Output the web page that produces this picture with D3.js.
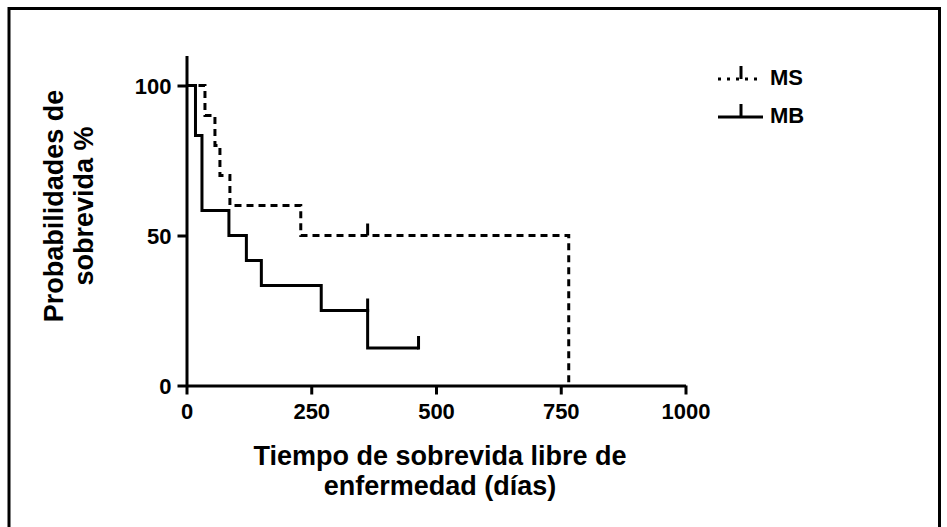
<!DOCTYPE html>
<html><head><meta charset="utf-8">
<script src="https://cdn.jsdelivr.net/npm/d3@7"></script>
<style>
html,body{margin:0;padding:0;background:#fff;}
svg{display:block;}
text{font-family:"Liberation Sans",Arial,sans-serif;font-weight:bold;fill:#000;}
</style></head><body>
<svg id="c" width="947" height="527"></svg>
<script>
// Data (days, survival %)
const msTimes = [0, 37, 57, 67, 87, 229, 766];
const msSurv  = [100, 90, 80, 70, 60, 50, 0];
const msCensor = [363];
const msCensorSurv = [50];

const mbTimes = [0, 18, 31, 85, 120, 150, 270, 363];
const mbSurv  = [100, 83.3, 58.3, 50, 41.7, 33.3, 25, 12.5];
const mbEnd = 465;
const mbCensor = [363, 465];
const mbCensorSurv = [25, 12.5];

const xTicks = [0, 250, 500, 750, 1000];
const yTicks = [0, 50, 100];
const seriesNames = ["MS", "MB"];

const svg = d3.select("#c");
// frame
svg.append("path").attr("d","M9,527 V8.5 H939.5 V527").attr("fill","none").attr("stroke","#000").attr("stroke-width",3);

const x = d3.scaleLinear().domain([0,1000]).range([186.5,685.5]);
const y = d3.scaleLinear().domain([0,110]).range([385.5,55.5]);

const gx = svg.append("g").attr("transform",`translate(0,${y(0)})`)
  .call(d3.axisBottom(x).tickValues(xTicks).tickSize(9).tickSizeOuter(0).tickPadding(7).tickFormat(d => String(d)));
const gy = svg.append("g").attr("transform",`translate(${x(0)},0)`)
  .call(d3.axisLeft(y).tickValues(yTicks).tickSize(9).tickSizeOuter(0).tickPadding(6).tickFormat(d => String(d)));
[gx,gy].forEach(g=>{
  g.attr("font-family",null).attr("font-size",null);
  g.select(".domain").attr("stroke","#000").attr("stroke-width",3);
  g.selectAll(".tick line").attr("stroke","#000").attr("stroke-width",3);
  g.selectAll(".tick text").style("font-size","22px").attr("fill","#000");
});
gx.selectAll(".tick text").attr("dy","0.78em");
gy.selectAll(".tick text").attr("dy","0.36em");

function stepLine(times, surv, end){
  const pts = [];
  for(let i=0;i<times.length;i++){
    if(i>0) pts.push([times[i], surv[i-1]]);
    pts.push([times[i], surv[i]]);
  }
  if(end!==undefined) pts.push([end, surv[surv.length-1]]);
  return d3.line().x(d=>x(d[0])).y(d=>y(d[1]))(pts);
}

// MS dashed
svg.append("path").attr("d", stepLine(msTimes, msSurv)).attr("fill","none")
  .attr("stroke","#000").attr("stroke-width",3).attr("stroke-dasharray","7,5");
msCensor.forEach((t,i)=>{
  svg.append("line").attr("x1",x(t)).attr("x2",x(t)).attr("y1",y(msCensorSurv[i])).attr("y2",y(msCensorSurv[i])-12)
    .attr("stroke","#000").attr("stroke-width",3);
});
// MB solid
svg.append("path").attr("d", stepLine(mbTimes, mbSurv, mbEnd)).attr("fill","none")
  .attr("stroke","#000").attr("stroke-width",3);
mbCensor.forEach((t,i)=>{
  svg.append("line").attr("x1",x(t)).attr("x2",x(t)).attr("y1",y(mbCensorSurv[i])+1.5).attr("y2",y(mbCensorSurv[i])-12)
    .attr("stroke","#000").attr("stroke-width",3);
});

// Legend
const leg = [{name:seriesNames[0], y:79, dash:"3,6"},{name:seriesNames[1], y:117, dash:null}];
leg.forEach(l=>{
  const ln = svg.append("line").attr("x1",718).attr("x2",763).attr("y1",l.y).attr("y2",l.y)
    .attr("stroke","#000").attr("stroke-width",3);
  if(l.dash) ln.attr("stroke-dasharray",l.dash);
  svg.append("line").attr("x1",741).attr("x2",741).attr("y1",l.y).attr("y2",l.y-13)
    .attr("stroke","#000").attr("stroke-width",3);
  svg.append("text").attr("x",770).attr("y",l.y+6).style("font-size","22px").text(l.name);
});

// Axis titles
const xt = svg.append("text").attr("text-anchor","middle").style("font-size","27px");
xt.append("tspan").attr("x",440).attr("y",465).text("Tiempo de sobrevida libre de");
xt.append("tspan").attr("x",440).attr("y",495).text("enfermedad (días)");

const yt = svg.append("text").attr("text-anchor","middle").attr("transform","rotate(-90)").style("font-size","27px");
yt.append("tspan").attr("x",-206).attr("y",63).text("Probabilidades de");
yt.append("tspan").attr("x",-206).attr("y",93).text("sobrevida %");
</script>
</body></html>
